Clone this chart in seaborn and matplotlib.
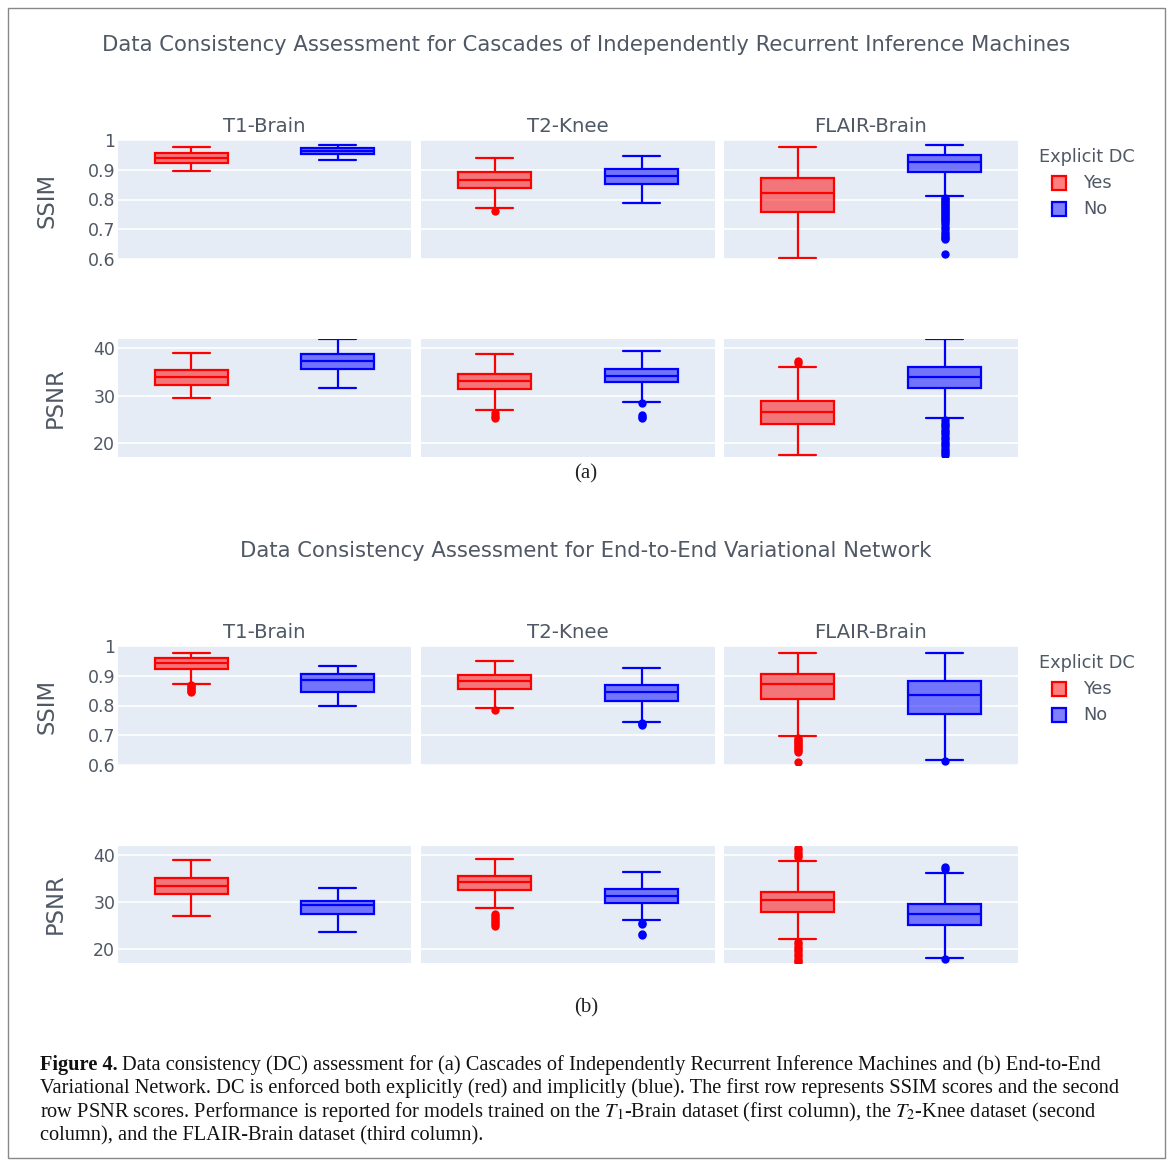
import numpy as np
import pandas as pd
import matplotlib
matplotlib.use("Agg")
import matplotlib.pyplot as plt
import seaborn as sns
from matplotlib.colors import to_rgba
from matplotlib.patches import Rectangle

sns.set_style("white")
plt.rcParams['font.family'] = ['DejaVu Sans']
plt.rcParams['mathtext.fontset'] = 'stix'

# ---------------------------------------------------------------- data
datasets = ["T1-Brain", "T2-Knee", "FLAIR-Brain"]
dc_levels = ["Yes", "No"]
metrics = ["SSIM", "PSNR"]
models = ["CIRIM", "E2EVN"]

model_titles = ["Data Consistency Assessment for Cascades of Independently Recurrent Inference Machines",
                "Data Consistency Assessment for End-to-End Variational Network"]
panel_tags = ["(a)", "(b)"]

ssim_ticks = [0.6, 0.7, 0.8, 0.9, 1.0]
ssim_ticklabels = ["0.6", "0.7", "0.8", "0.9", "1"]
psnr_ticks = [20, 30, 40]
psnr_ticklabels = ["20", "30", "40"]

# box summary per dataset: [lower whisker, q1, median, q3, upper whisker]
cirim_ssim_yes = [[0.896, 0.922, 0.938, 0.957, 0.975],
                  [0.770, 0.838, 0.866, 0.891, 0.941],
                  [0.604, 0.758, 0.822, 0.871, 0.978]]
cirim_ssim_no = [[0.934, 0.952, 0.963, 0.973, 0.983],
                 [0.789, 0.853, 0.878, 0.902, 0.946],
                 [0.812, 0.891, 0.927, 0.949, 0.984]]
cirim_psnr_yes = [[29.4, 32.3, 33.9, 35.3, 38.9],
                  [27.0, 31.3, 33.1, 34.5, 38.7],
                  [17.4, 24.1, 26.5, 28.9, 35.9]]
cirim_psnr_no = [[31.5, 35.6, 37.2, 38.7, 41.8],
                 [28.7, 32.8, 34.1, 35.6, 39.4],
                 [25.2, 31.6, 34.0, 36.1, 41.9]]
e2e_ssim_yes = [[0.873, 0.922, 0.942, 0.959, 0.976],
                [0.790, 0.856, 0.883, 0.901, 0.948],
                [0.697, 0.821, 0.871, 0.906, 0.978]]
e2e_ssim_no = [[0.797, 0.847, 0.886, 0.907, 0.933],
               [0.746, 0.814, 0.845, 0.868, 0.926],
               [0.616, 0.773, 0.834, 0.881, 0.976]]
e2e_psnr_yes = [[27.1, 31.6, 33.4, 35.1, 39.0],
                [28.8, 32.6, 34.2, 35.5, 39.2],
                [22.1, 27.8, 30.4, 32.2, 38.7]]
e2e_psnr_no = [[23.7, 27.4, 29.3, 30.3, 33.0],
               [26.2, 29.7, 31.2, 32.7, 36.3],
               [18.1, 25.1, 27.4, 29.5, 36.2]]

# outliers per dataset
cirim_ssim_yes_out = [[], [0.763], []]
cirim_ssim_no_out = [[], [], [0.806, 0.801, 0.796, 0.791, 0.786, 0.781, 0.776, 0.771, 0.766,
                              0.761, 0.756, 0.751, 0.746, 0.741, 0.736, 0.731, 0.724, 0.716,
                              0.708, 0.700, 0.692, 0.684, 0.677, 0.671, 0.666, 0.616]]
cirim_psnr_yes_out = [[], [26.3, 25.7, 25.3], [36.8, 37.2]]
cirim_psnr_no_out = [[], [28.5, 25.9, 25.5, 25.2],
                     [24.8, 24.3, 23.8, 23.3, 22.8, 22.3, 21.8, 21.3, 20.8, 20.3,
                      19.8, 19.3, 18.8, 18.3, 17.8, 17.4]]
e2e_ssim_yes_out = [[0.869, 0.864, 0.859, 0.854, 0.849, 0.844],
                    [0.786],
                    [0.690, 0.685, 0.680, 0.675, 0.670, 0.665, 0.660, 0.655, 0.650, 0.645, 0.610]]
e2e_ssim_no_out = [[], [0.742, 0.737, 0.733], [0.612]]
e2e_psnr_yes_out = [[], [27.4, 27.0, 26.6, 26.2, 25.8, 25.4, 25.0],
                    [39.5, 40.0, 40.5, 41.0, 41.5, 21.5, 21.0, 20.5, 20.0, 19.5,
                     19.0, 18.5, 18.0, 17.5, 17.2]]
e2e_psnr_no_out = [[], [25.6, 25.3, 23.3, 22.9], [37.1, 37.5, 17.9]]

box_sets = {
    ("CIRIM", "SSIM"): (cirim_ssim_yes, cirim_ssim_no, cirim_ssim_yes_out, cirim_ssim_no_out),
    ("CIRIM", "PSNR"): (cirim_psnr_yes, cirim_psnr_no, cirim_psnr_yes_out, cirim_psnr_no_out),
    ("E2EVN", "SSIM"): (e2e_ssim_yes, e2e_ssim_no, e2e_ssim_yes_out, e2e_ssim_no_out),
    ("E2EVN", "PSNR"): (e2e_psnr_yes, e2e_psnr_no, e2e_psnr_yes_out, e2e_psnr_no_out),
}

caption_lines = [
    "Data consistency (DC) assessment for (a) Cascades of Independently Recurrent Inference Machines and (b) End-to-End",
    "Variational Network. DC is enforced both explicitly (red) and implicitly (blue). The first row represents SSIM scores and the second",
    "row PSNR scores. Performance is reported for models trained on the $T_1$-Brain dataset (first column), the $T_2$-Knee dataset (second",
    "column), and the FLAIR-Brain dataset (third column).",
]

# build long-form tables
box_rows, out_rows = [], []
for (model, metric), (yes, no, yes_out, no_out) in box_sets.items():
    for d, name in enumerate(datasets):
        for dc, vals, outs in [("Yes", yes[d], yes_out[d]), ("No", no[d], no_out[d])]:
            for v in vals:
                box_rows.append((model, metric, name, dc, v))
            for v in outs:
                out_rows.append((model, metric, name, dc, v))
cols = ["model", "metric", "dataset", "dc", "value"]
boxes = pd.DataFrame(box_rows, columns=cols)
outliers = pd.DataFrame(out_rows, columns=cols)

# ---------------------------------------------------------------- layout
W, H = 1171, 1162
bg = "#E5ECF6"
text_c = "#4f5864"
dc_colors = {"Yes": "#ff0000", "No": "#0000ff"}

col_px = [(118, 411), (421, 715), (724, 1018)]
row_px = {("CIRIM", "SSIM"): (140, 259), ("CIRIM", "PSNR"): (339, 457),
          ("E2EVN", "SSIM"): (646, 765), ("E2EVN", "PSNR"): (846, 963)}
ylims = {"SSIM": (0.6, 1.0), "PSNR": (17.05, 41.9)}
tag_y = [474, 1008]


def fig_box(x0, x1, y0, y1):
    return [x0 / W, 1 - y1 / H, (x1 - x0) / W, (y1 - y0) / H]


fig = plt.figure(figsize=(W / 100, H / 100), dpi=100)

for (model, metric), (y0, y1) in row_px.items():
    for j, name in enumerate(datasets):
        ax = fig.add_axes(fig_box(col_px[j][0], col_px[j][1], y0, y1))
        ax.set_facecolor(bg)
        ax.set_axisbelow(True)
        sel = (boxes.model == model) & (boxes.metric == metric) & (boxes.dataset == name)
        osel = (outliers.model == model) & (outliers.metric == metric) & (outliers.dataset == name)
        for dc in dc_levels:
            part = boxes[sel & (boxes.dc == dc)]
            sns.boxplot(data=part, x="dc", y="value", order=dc_levels, whis=(0, 100),
                        width=0.5, linewidth=1.6, linecolor=dc_colors[dc],
                        boxprops=dict(facecolor=to_rgba(dc_colors[dc], 0.5)), ax=ax)
            pts = outliers[osel & (outliers.dc == dc)]
            if len(pts):
                sns.stripplot(data=pts, x="dc", y="value", order=dc_levels, jitter=False,
                              color=dc_colors[dc], size=6, linewidth=0, ax=ax, zorder=4)
        ax.set_xlim(-0.5, 1.5)
        ax.set_ylim(*ylims[metric])
        if metric == "SSIM":
            ax.set_yticks(ssim_ticks)
            ax.set_yticklabels(ssim_ticklabels)
        else:
            ax.set_yticks(psnr_ticks)
            ax.set_yticklabels(psnr_ticklabels)
        ax.set_xticks([])
        ax.set_xlabel("")
        ax.set_ylabel("")
        ax.yaxis.grid(True, color="white", linewidth=1.2)
        for s in ax.spines.values():
            s.set_visible(False)
        ax.tick_params(axis="y", length=0, labelsize=12.5, colors=text_c, pad=2,
                       labelleft=(j == 0))
        if metric == "SSIM":
            fig.text((col_px[j][0] + col_px[j][1]) / 2 / W, 1 - (y0 - 13) / H, name,
                     ha="center", va="center", fontsize=14.2, color=text_c)

# y axis titles, panel titles, legends, tags
offsets = [0, 506]
for k, off in enumerate(offsets):
    fig.text(47 / W, 1 - (200 + off) / H, "SSIM", rotation=90, ha="center", va="center",
             fontsize=16.3, color=text_c)
    fig.text(55 / W, 1 - (398 + off) / H, "PSNR", rotation=90, ha="center", va="center",
             fontsize=16.3, color=text_c)
    fig.text(586 / W, 1 - (45 + off) / H, model_titles[k], ha="center", va="center",
             fontsize=15.2, color=text_c)
    fig.text(586 / W, 1 - tag_y[k] / H, panel_tags[k], ha="center", va="center",
             fontsize=15, color="#222222", family="Liberation Serif")
    # legend
    fig.text(1039 / W, 1 - (157 + off) / H, "Explicit DC", ha="left", va="center",
             fontsize=12.8, color=text_c)
    for i, dc in enumerate(dc_levels):
        yc = 183 + 26 * i + off
        fig.patches.append(Rectangle((1052 / W, 1 - (yc + 7) / H), 14 / W, 14 / H,
                                     transform=fig.transFigure, facecolor=to_rgba(dc_colors[dc], 0.5),
                                     edgecolor=dc_colors[dc], linewidth=1.6))
        fig.text(1083 / W, 1 - yc / H, dc, ha="left", va="center", fontsize=12.8, color=text_c)

# caption
renderer = fig.canvas.get_renderer()
cap_y = [1065, 1088, 1112, 1136]
cap_size = 14.7
bold = fig.text(40 / W, 1 - cap_y[0] / H, "Figure 4.", ha="left", va="center",
                fontsize=cap_size, fontweight="bold", family="Liberation Serif", color="#111111")
bw = bold.get_window_extent(renderer).width
for i, line in enumerate(caption_lines):
    x0 = 40 + (bw + 4 if i == 0 else 0)
    fig.text(x0 / W, 1 - cap_y[i] / H, line, ha="left", va="center", fontsize=cap_size,
             family="Liberation Serif", color="#111111")

# frame around the figure
fig.patches.append(Rectangle((8 / W, 1 - 1158 / H), (1165 - 8) / W, (1158 - 8) / H,
                             transform=fig.transFigure, fill=False, edgecolor="#888888", linewidth=1))

fig.savefig("out.png", dpi=100)
